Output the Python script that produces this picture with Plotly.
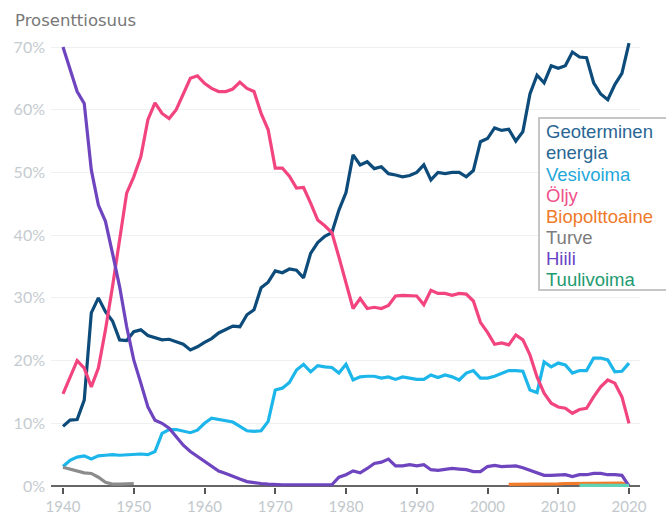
import plotly.graph_objects as go

years = list(range(1940, 2021))

geoterminen = [9.5, 10.5, 10.6, 13.7, 27.6, 30.0, 27.8, 26.3, 23.3, 23.2,
               24.6, 24.9, 24.0, 23.6, 23.3, 23.4, 23.0, 22.6, 21.7, 22.2,
               22.9, 23.5, 24.4, 24.9, 25.5, 25.4, 27.3, 28.1, 31.6, 32.5,
               34.3, 34.0, 34.6, 34.4, 33.2, 37.1, 38.8, 39.8, 40.4, 44.0,
               46.8, 52.8, 51.2, 51.7, 50.6, 50.9, 49.8, 49.6, 49.3, 49.5,
               50.0, 51.2, 48.8, 50.0, 49.8, 50.0, 50.0, 49.3, 50.3, 54.9,
               55.4, 57.1, 56.7, 56.9, 55.0, 56.5, 62.5, 65.5, 64.3, 67.0,
               66.6, 67.0, 69.2, 68.4, 68.3, 64.3, 62.5, 61.6, 64.0, 65.8,
               70.6]

vesivoima = [3.1, 4.1, 4.6, 4.8, 4.3, 4.8, 4.9, 5.0, 4.9, 5.0,
             5.0, 5.1, 5.0, 5.5, 8.4, 9.0, 9.0, 8.8, 8.5, 8.9,
             10.0, 10.8, 10.6, 10.5, 10.2, 9.5, 8.8, 8.7, 8.8, 10.3,
             15.3, 15.6, 16.5, 18.5, 19.4, 18.2, 19.2, 19.0, 18.9, 18.0,
             19.4, 16.9, 17.4, 17.5, 17.5, 17.2, 17.4, 17.0, 17.4, 17.2,
             17.0, 17.0, 17.7, 17.3, 17.7, 17.4, 16.9, 18.0, 18.4, 17.2,
             17.2, 17.5, 18.0, 18.4, 18.4, 18.3, 15.3, 14.9, 19.8, 19.0,
             19.6, 19.3, 18.0, 18.4, 18.4, 20.4, 20.4, 20.1, 18.2, 18.3,
             19.6]

oljy = [14.7, 17.4, 20.0, 18.8, 15.8, 18.8, 24.9, 31.8, 39.3, 46.7,
        49.3, 52.5, 58.4, 61.1, 59.4, 58.6, 60.0, 62.6, 65.0, 65.4,
        64.2, 63.4, 62.9, 62.9, 63.3, 64.4, 63.4, 62.9, 59.4, 56.8,
        50.7, 50.7, 49.4, 47.5, 47.6, 45.1, 42.4, 41.5, 40.4, 36.5,
        32.5, 28.3, 29.9, 28.3, 28.5, 28.3, 28.8, 30.3, 30.4, 30.4,
        30.3, 28.9, 31.2, 30.7, 30.7, 30.4, 30.7, 30.6, 29.5, 26.1,
        24.5, 22.6, 22.8, 22.5, 24.1, 23.3, 20.9, 17.4, 14.8, 13.2,
        12.6, 12.4, 11.6, 12.2, 12.4, 14.2, 15.8, 16.9, 16.4, 14.2,
        10.0]

biopolttoaine = [None] * 63 + [0.25, 0.25, 0.3, 0.3, 0.3, 0.35, 0.35, 0.35, 0.4,
                               0.4, 0.4, 0.4, 0.4, 0.45, 0.45, 0.45, 0.45, 0.1]

turve = [3.0, 2.7, 2.4, 2.1, 2.0, 1.4, 0.6, 0.3, 0.3, 0.3, 0.4] + [None] * 70

hiili = [70.0, 66.4, 62.9, 61.0, 50.4, 44.8, 42.2, 37.1, 31.8, 25.4,
         20.1, 16.4, 12.6, 10.5, 10.0, 9.2, 7.9, 6.5, 5.5, 4.7,
         3.9, 3.2, 2.4, 2.0, 1.5, 1.1, 0.7, 0.5, 0.4, 0.3,
         0.2, 0.2, 0.2, 0.2, 0.2, 0.2, 0.2, 0.2, 0.2, 1.4,
         1.8, 2.4, 2.1, 2.8, 3.6, 3.8, 4.3, 3.2, 3.2, 3.4,
         3.2, 3.4, 2.6, 2.5, 2.6, 2.8, 2.7, 2.6, 2.3, 2.3,
         3.1, 3.3, 3.1, 3.1, 3.2, 2.9, 2.5, 2.0, 1.7, 1.7,
         1.7, 1.8, 1.5, 1.8, 1.8, 2.0, 2.0, 1.8, 1.8, 1.7,
         0.0]

tuulivoima = [None] * 73 + [0.1, 0.1, 0.1, 0.1, 0.1, 0.1, 0.1, 0.1]

series_names = ["Geoterminen energia", "Vesivoima", "Öljy", "Biopolttoaine",
                "Turve", "Hiili", "Tuulivoima"]
legend_lines = ["Geoterminen", "energia", "Vesivoima", "Öljy", "Biopolttoaine",
                "Turve", "Hiili", "Tuulivoima"]
y_ticks = [0, 10, 20, 30, 40, 50, 60, 70]
y_tick_labels = ["0%", "10%", "20%", "30%", "40%", "50%", "60%", "70%"]
x_ticks = [1940, 1950, 1960, 1970, 1980, 1990, 2000, 2010, 2020]
title_text = "Prosenttiosuus"

line_colors = ["#0c4b7a", "#1db6ea", "#f2457f", "#f37c2c", "#8c8c8c", "#6e44bf", "#5fd3b5"]
text_colors = ["#2a6693", "#1fa8da", "#f0508a", "#ef7a2a", "#7c7c7c", "#6a44c4", "#229a70"]

values = [geoterminen, vesivoima, oljy, biopolttoaine, turve, hiili, tuulivoima]

W, H = 666, 517
ML, MR, MT, MB = 51, 26, 35, 30
PL, PR, PT, PB = ML, W - MR, MT, H - MB
px_per_unit = (486 - 47) / 70.0
y_lo = -(PB - 486) / px_per_unit
y_hi = y_lo + (PB - PT) / px_per_unit
px_per_year = (629 - 63) / 80.0
x_lo = 1940 - (63 - PL) / px_per_year
x_hi = x_lo + (PR - PL) / px_per_year


def pxx(p):
    return (p - PL) / (PR - PL)


def pxy(p):
    return (PB - p) / (PB - PT)


fig = go.Figure()
for name, vals, col in zip(series_names, values, line_colors):
    fig.add_trace(go.Scatter(x=years, y=vals, mode="lines", name=name,
                             line=dict(color=col, width=3.2),
                             connectgaps=False, hoverinfo="skip"))

fig.update_layout(
    width=W, height=H, autosize=False,
    margin=dict(l=ML, r=MR, t=MT, b=MB, pad=0),
    paper_bgcolor="white", plot_bgcolor="white",
    showlegend=False,
    xaxis=dict(range=[x_lo, x_hi], tickvals=x_ticks, ticks="outside",
               ticklen=6, tickwidth=1.5, tickcolor="#555555",
               ticklabelstandoff=0,
               tickfont=dict(family="Lato", size=15, color="#c2c8cc"),
               showgrid=False, zeroline=False, showline=False, automargin=False),
    yaxis=dict(range=[y_lo, y_hi], tickvals=y_ticks, ticktext=y_tick_labels,
               ticks="", showgrid=True, gridcolor="#eef0f2", gridwidth=1,
               zeroline=True, zerolinecolor="#666666", zerolinewidth=1.5,
               ticklabelstandoff=5,
               tickfont=dict(family="Lato", size=16, color="#c5cbcf"),
               showline=False, automargin=False),
)

fig.add_annotation(text=title_text, xref="paper", yref="paper",
                   x=pxx(13), y=pxy(20), xanchor="left", yanchor="middle",
                   showarrow=False,
                   font=dict(family="DejaVu Sans", size=16.5, color="#777777"))

fig.add_shape(type="rect", xref="paper", yref="paper",
              x0=pxx(539), x1=pxx(675), y0=pxy(290), y1=pxy(118),
              line=dict(color="#b4b4b4", width=1.5), fillcolor="white", layer="above")

legend_color_idx = [0, 0, 1, 2, 3, 4, 5, 6]
line_centers = [131.7, 152.7, 174, 195, 216, 237, 258.7, 279.3]
for txt, ci, yc in zip(legend_lines, legend_color_idx, line_centers):
    fig.add_annotation(text=txt, xref="paper", yref="paper",
                       x=pxx(544), y=pxy(yc), xanchor="left", yanchor="middle",
                       showarrow=False,
                       font=dict(family="Liberation Sans", size=18.5, color=text_colors[ci]))

fig.write_html("out.html", config={"responsive": False, "displayModeBar": False},
               post_script="document.body.style.margin='0';document.body.style.overflow='hidden';")
